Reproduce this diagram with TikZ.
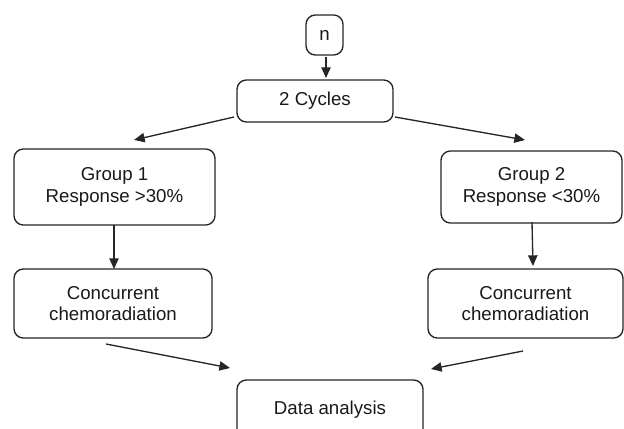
\documentclass[tikz,border=0pt]{standalone}
\usepackage{fontspec}
\setmainfont{Liberation Sans}
\usetikzlibrary{arrows.meta}
\begin{document}
\begin{tikzpicture}[x=0.75pt,y=-0.75pt,
  box/.style={draw=black!85, line width=1pt, rounded corners=7pt, align=center,
    font=\fontsize{14}{16}\selectfont, inner sep=0pt, text=black!90},
  arr/.style={draw=black!85, line width=1pt, -{Triangle[length=8pt,width=7pt]}}]
\useasboundingbox (0,0) rectangle (624,428);
\clip (0,0) rectangle (624,428);
\node[box, minimum width=37*0.75pt, minimum height=40*0.75pt] (n) at (324.5,35) {n};
\node[box, minimum width=156*0.75pt, minimum height=42*0.75pt] (cyc) at (315,101) {2 Cycles};
\node[box, minimum width=201*0.75pt, minimum height=76*0.75pt] (g1) at (114.5,187) {Group 1\\Response >30\%};
\node[box, minimum width=181*0.75pt, minimum height=72*0.75pt] (g2) at (531.5,187) {Group 2\\Response <30\%};
\node[box, minimum width=198*0.75pt, minimum height=69*0.75pt] (c1) at (113,303.5) {Concurrent\\chemoradiation};
\node[box, minimum width=195*0.75pt, minimum height=69*0.75pt] (c2) at (525.5,303.5) {Concurrent\\chemoradiation};
\node[box, minimum width=186*0.75pt, minimum height=60*0.75pt] (da) at (330,410) {Data analysis};
\coordinate (nA) at (326,57);
\coordinate (nB) at (326,78);
\coordinate (lA) at (234,117);
\coordinate (lB) at (134,140);
\coordinate (rA) at (395,117);
\coordinate (rB) at (525,140);
\coordinate (g1A) at (114,225);
\coordinate (g1B) at (114,269);
\coordinate (g2A) at (532,222);
\coordinate (g2B) at (533,266);
\coordinate (bA) at (106,344);
\coordinate (bB) at (230,368);
\coordinate (cA) at (523,351);
\coordinate (cB) at (431,369);
\draw[arr] (nA) -- (nB);
\draw[arr] (lA) -- (lB);
\draw[arr] (rA) -- (rB);
\draw[arr] (g1A) -- (g1B);
\draw[arr] (g2A) -- (g2B);
\draw[arr] (bA) -- (bB);
\draw[arr] (cA) -- (cB);
\end{tikzpicture}
\end{document}
